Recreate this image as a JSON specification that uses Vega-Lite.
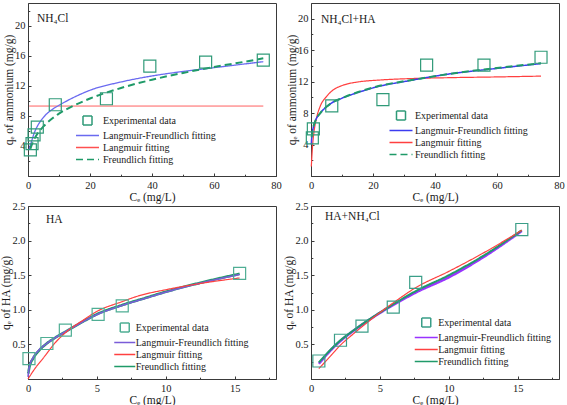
{
  "$schema": "https://vega.github.io/schema/vega-lite/v6.json",
  "padding": {"left": 0, "top": 2, "right": 0, "bottom": 0},
  "background": "white",
  "config": {
    "font": "Liberation Serif",
    "view": {"stroke": "#3a3a3a", "strokeWidth": 1},
    "axis": {"grid": false, "labelFont": "Liberation Serif", "titleFont": "Liberation Serif", "labelFontSize": 10.5, "titleFontSize": 11.5, "titleFontWeight": "normal", "labelColor": "#1a1a1a", "titleColor": "#1a1a1a", "domainColor": "#3a3a3a", "tickColor": "#3a3a3a", "tickSize": -3, "labelPadding": 7, "labelFlush": false, "labelOverlap": false},
    "axisX": {"titlePadding": 1},
    "axisY": {"titlePadding": 0, "labelPadding": 6},
    "legend": {"labelFont": "Liberation Serif", "labelFontSize": 10, "labelColor": "#1a1a1a", "symbolSize": 100, "symbolStrokeWidth": 1.5, "rowPadding": 1, "labelOffset": 9, "padding": 0, "orient": "none", "title": null},
    "title": {"font": "Liberation Serif", "fontSize": 11.5, "fontWeight": "normal", "anchor": "start", "orient": "top", "frame": "group", "baseline": "bottom", "color": "#1a1a1a"}
  },
  "datasets": {
    "p1": [
      {"series": "Experimental data", "Ce": 0.76, "qe": 3.47}, {"series": "Experimental data", "Ce": 1.3, "qe": 4.3}, {"series": "Experimental data", "Ce": 1.95, "qe": 5.47}, {"series": "Experimental data", "Ce": 3.0, "qe": 6.5}, {"series": "Experimental data", "Ce": 8.8, "qe": 9.47}, {"series": "Experimental data", "Ce": 25.3, "qe": 10.27}, {"series": "Experimental data", "Ce": 39.3, "qe": 14.6}, {"series": "Experimental data", "Ce": 57.3, "qe": 15.15}, {"series": "Experimental data", "Ce": 75.9, "qe": 15.4},
      {"series": "Langmuir-Freundlich fitting", "Ce": 0.35, "qe": 3.5}, {"series": "Langmuir-Freundlich fitting", "Ce": 1, "qe": 4.4}, {"series": "Langmuir-Freundlich fitting", "Ce": 2, "qe": 5.7}, {"series": "Langmuir-Freundlich fitting", "Ce": 3, "qe": 6.6}, {"series": "Langmuir-Freundlich fitting", "Ce": 5, "qe": 7.8}, {"series": "Langmuir-Freundlich fitting", "Ce": 8, "qe": 8.9}, {"series": "Langmuir-Freundlich fitting", "Ce": 10, "qe": 9.4}, {"series": "Langmuir-Freundlich fitting", "Ce": 15, "qe": 10.5}, {"series": "Langmuir-Freundlich fitting", "Ce": 20, "qe": 11.4}, {"series": "Langmuir-Freundlich fitting", "Ce": 30, "qe": 12.5}, {"series": "Langmuir-Freundlich fitting", "Ce": 40, "qe": 13.3}, {"series": "Langmuir-Freundlich fitting", "Ce": 50, "qe": 13.9}, {"series": "Langmuir-Freundlich fitting", "Ce": 60, "qe": 14.4}, {"series": "Langmuir-Freundlich fitting", "Ce": 70, "qe": 14.9}, {"series": "Langmuir-Freundlich fitting", "Ce": 75.9, "qe": 15.2},
      {"series": "Langmuir fitting", "Ce": 0.4, "qe": 9.3}, {"series": "Langmuir fitting", "Ce": 20, "qe": 9.3}, {"series": "Langmuir fitting", "Ce": 40, "qe": 9.3}, {"series": "Langmuir fitting", "Ce": 60, "qe": 9.3}, {"series": "Langmuir fitting", "Ce": 75.9, "qe": 9.3},
      {"series": "Freundlich fitting", "Ce": 0.76, "qe": 3.6}, {"series": "Freundlich fitting", "Ce": 1, "qe": 3.9}, {"series": "Freundlich fitting", "Ce": 2, "qe": 4.9}, {"series": "Freundlich fitting", "Ce": 3, "qe": 5.6}, {"series": "Freundlich fitting", "Ce": 5, "qe": 6.6}, {"series": "Freundlich fitting", "Ce": 8, "qe": 7.7}, {"series": "Freundlich fitting", "Ce": 10, "qe": 8.3}, {"series": "Freundlich fitting", "Ce": 15, "qe": 9.4}, {"series": "Freundlich fitting", "Ce": 20, "qe": 10.3}, {"series": "Freundlich fitting", "Ce": 30, "qe": 11.7}, {"series": "Freundlich fitting", "Ce": 40, "qe": 12.8}, {"series": "Freundlich fitting", "Ce": 50, "qe": 13.7}, {"series": "Freundlich fitting", "Ce": 60, "qe": 14.5}, {"series": "Freundlich fitting", "Ce": 70, "qe": 15.2}, {"series": "Freundlich fitting", "Ce": 75.9, "qe": 15.65}
    ],
    "p2": [
      {"series": "Experimental data", "Ce": 0.43, "qe": 4.84}, {"series": "Experimental data", "Ce": 0.76, "qe": 6.0}, {"series": "Experimental data", "Ce": 6.7, "qe": 8.92}, {"series": "Experimental data", "Ce": 23.2, "qe": 9.72}, {"series": "Experimental data", "Ce": 37.3, "qe": 14.1}, {"series": "Experimental data", "Ce": 55.8, "qe": 14.1}, {"series": "Experimental data", "Ce": 74.2, "qe": 15.1},
      {"series": "Langmuir fitting", "Ce": 0.1, "qe": 1.2}, {"series": "Langmuir fitting", "Ce": 0.3, "qe": 2.6}, {"series": "Langmuir fitting", "Ce": 0.6, "qe": 4.3}, {"series": "Langmuir fitting", "Ce": 1, "qe": 5.7}, {"series": "Langmuir fitting", "Ce": 1.8, "qe": 7.4}, {"series": "Langmuir fitting", "Ce": 3, "qe": 8.9}, {"series": "Langmuir fitting", "Ce": 5, "qe": 10.1}, {"series": "Langmuir fitting", "Ce": 7, "qe": 10.9}, {"series": "Langmuir fitting", "Ce": 10, "qe": 11.5}, {"series": "Langmuir fitting", "Ce": 15, "qe": 11.95}, {"series": "Langmuir fitting", "Ce": 22, "qe": 12.2}, {"series": "Langmuir fitting", "Ce": 33, "qe": 12.4}, {"series": "Langmuir fitting", "Ce": 44, "qe": 12.5}, {"series": "Langmuir fitting", "Ce": 60, "qe": 12.6}, {"series": "Langmuir fitting", "Ce": 74.2, "qe": 12.7},
      {"series": "Langmuir-Freundlich fitting", "Ce": 0.1, "qe": 4.0}, {"series": "Langmuir-Freundlich fitting", "Ce": 0.2, "qe": 4.7}, {"series": "Langmuir-Freundlich fitting", "Ce": 0.43, "qe": 5.5}, {"series": "Langmuir-Freundlich fitting", "Ce": 0.76, "qe": 6.2}, {"series": "Langmuir-Freundlich fitting", "Ce": 1.5, "qe": 7.1}, {"series": "Langmuir-Freundlich fitting", "Ce": 3, "qe": 8.0}, {"series": "Langmuir-Freundlich fitting", "Ce": 5, "qe": 8.8}, {"series": "Langmuir-Freundlich fitting", "Ce": 6.7, "qe": 9.3}, {"series": "Langmuir-Freundlich fitting", "Ce": 10, "qe": 9.9}, {"series": "Langmuir-Freundlich fitting", "Ce": 15, "qe": 10.6}, {"series": "Langmuir-Freundlich fitting", "Ce": 23, "qe": 11.5}, {"series": "Langmuir-Freundlich fitting", "Ce": 30, "qe": 12.0}, {"series": "Langmuir-Freundlich fitting", "Ce": 37, "qe": 12.5}, {"series": "Langmuir-Freundlich fitting", "Ce": 45, "qe": 13.0}, {"series": "Langmuir-Freundlich fitting", "Ce": 55.8, "qe": 13.5}, {"series": "Langmuir-Freundlich fitting", "Ce": 65, "qe": 13.9}, {"series": "Langmuir-Freundlich fitting", "Ce": 74.2, "qe": 14.3},
      {"series": "Freundlich fitting", "Ce": 0.2, "qe": 4.9}, {"series": "Freundlich fitting", "Ce": 0.43, "qe": 5.6}, {"series": "Freundlich fitting", "Ce": 0.76, "qe": 6.25}, {"series": "Freundlich fitting", "Ce": 1.5, "qe": 7.1}, {"series": "Freundlich fitting", "Ce": 3, "qe": 8.0}, {"series": "Freundlich fitting", "Ce": 5, "qe": 8.8}, {"series": "Freundlich fitting", "Ce": 6.7, "qe": 9.3}, {"series": "Freundlich fitting", "Ce": 10, "qe": 9.9}, {"series": "Freundlich fitting", "Ce": 15, "qe": 10.65}, {"series": "Freundlich fitting", "Ce": 23, "qe": 11.55}, {"series": "Freundlich fitting", "Ce": 30, "qe": 12.05}, {"series": "Freundlich fitting", "Ce": 37, "qe": 12.5}, {"series": "Freundlich fitting", "Ce": 45, "qe": 13.0}, {"series": "Freundlich fitting", "Ce": 55.8, "qe": 13.55}, {"series": "Freundlich fitting", "Ce": 65, "qe": 13.95}, {"series": "Freundlich fitting", "Ce": 74.2, "qe": 14.35}
    ],
    "p3": [
      {"series": "Experimental data", "Ce": 0.07, "qe": 0.295}, {"series": "Experimental data", "Ce": 1.37, "qe": 0.513}, {"series": "Experimental data", "Ce": 2.71, "qe": 0.707}, {"series": "Experimental data", "Ce": 5.09, "qe": 0.935}, {"series": "Experimental data", "Ce": 6.84, "qe": 1.056}, {"series": "Experimental data", "Ce": 15.36, "qe": 1.525},
      {"series": "Langmuir fitting", "Ce": 0, "qe": 0.0}, {"series": "Langmuir fitting", "Ce": 0.5, "qe": 0.15}, {"series": "Langmuir fitting", "Ce": 1.1, "qe": 0.3}, {"series": "Langmuir fitting", "Ce": 2, "qe": 0.53}, {"series": "Langmuir fitting", "Ce": 2.78, "qe": 0.68}, {"series": "Langmuir fitting", "Ce": 4, "qe": 0.85}, {"series": "Langmuir fitting", "Ce": 4.94, "qe": 0.97}, {"series": "Langmuir fitting", "Ce": 6.86, "qe": 1.12}, {"series": "Langmuir fitting", "Ce": 8, "qe": 1.2}, {"series": "Langmuir fitting", "Ce": 10, "qe": 1.29}, {"series": "Langmuir fitting", "Ce": 12.5, "qe": 1.38}, {"series": "Langmuir fitting", "Ce": 15.36, "qe": 1.46},
      {"series": "Freundlich fitting", "Ce": 0.02, "qe": 0.08}, {"series": "Freundlich fitting", "Ce": 0.1, "qe": 0.17}, {"series": "Freundlich fitting", "Ce": 0.38, "qe": 0.3}, {"series": "Freundlich fitting", "Ce": 0.8, "qe": 0.41}, {"series": "Freundlich fitting", "Ce": 1.34, "qe": 0.51}, {"series": "Freundlich fitting", "Ce": 2, "qe": 0.6}, {"series": "Freundlich fitting", "Ce": 2.78, "qe": 0.69}, {"series": "Freundlich fitting", "Ce": 4, "qe": 0.83}, {"series": "Freundlich fitting", "Ce": 4.94, "qe": 0.93}, {"series": "Freundlich fitting", "Ce": 6.86, "qe": 1.07}, {"series": "Freundlich fitting", "Ce": 8.5, "qe": 1.17}, {"series": "Freundlich fitting", "Ce": 10, "qe": 1.26}, {"series": "Freundlich fitting", "Ce": 12.5, "qe": 1.39}, {"series": "Freundlich fitting", "Ce": 15.36, "qe": 1.52},
      {"series": "Langmuir-Freundlich fitting", "Ce": 0, "qe": 0.03}, {"series": "Langmuir-Freundlich fitting", "Ce": 0.1, "qe": 0.18}, {"series": "Langmuir-Freundlich fitting", "Ce": 0.38, "qe": 0.31}, {"series": "Langmuir-Freundlich fitting", "Ce": 0.8, "qe": 0.42}, {"series": "Langmuir-Freundlich fitting", "Ce": 1.34, "qe": 0.51}, {"series": "Langmuir-Freundlich fitting", "Ce": 2, "qe": 0.6}, {"series": "Langmuir-Freundlich fitting", "Ce": 2.78, "qe": 0.69}, {"series": "Langmuir-Freundlich fitting", "Ce": 4, "qe": 0.83}, {"series": "Langmuir-Freundlich fitting", "Ce": 4.94, "qe": 0.925}, {"series": "Langmuir-Freundlich fitting", "Ce": 6.86, "qe": 1.065}, {"series": "Langmuir-Freundlich fitting", "Ce": 8.5, "qe": 1.165}, {"series": "Langmuir-Freundlich fitting", "Ce": 10, "qe": 1.255}, {"series": "Langmuir-Freundlich fitting", "Ce": 12.5, "qe": 1.385}, {"series": "Langmuir-Freundlich fitting", "Ce": 15.36, "qe": 1.51}
    ],
    "p4": [
      {"series": "Experimental data", "Ce": 0.57, "qe": 0.26}, {"series": "Experimental data", "Ce": 2.14, "qe": 0.56}, {"series": "Experimental data", "Ce": 3.7, "qe": 0.765}, {"series": "Experimental data", "Ce": 5.97, "qe": 1.04}, {"series": "Experimental data", "Ce": 7.6, "qe": 1.395}, {"series": "Experimental data", "Ce": 15.3, "qe": 2.16},
      {"series": "Langmuir-Freundlich fitting", "Ce": 0.57, "qe": 0.22}, {"series": "Langmuir-Freundlich fitting", "Ce": 1.5, "qe": 0.43}, {"series": "Langmuir-Freundlich fitting", "Ce": 2.14, "qe": 0.55}, {"series": "Langmuir-Freundlich fitting", "Ce": 3, "qe": 0.685}, {"series": "Langmuir-Freundlich fitting", "Ce": 3.7, "qe": 0.785}, {"series": "Langmuir-Freundlich fitting", "Ce": 5, "qe": 0.955}, {"series": "Langmuir-Freundlich fitting", "Ce": 5.97, "qe": 1.07}, {"series": "Langmuir-Freundlich fitting", "Ce": 7.6, "qe": 1.25}, {"series": "Langmuir-Freundlich fitting", "Ce": 10, "qe": 1.47}, {"series": "Langmuir-Freundlich fitting", "Ce": 12.5, "qe": 1.76}, {"series": "Langmuir-Freundlich fitting", "Ce": 15.3, "qe": 2.14},
      {"series": "Freundlich fitting", "Ce": 0.57, "qe": 0.24}, {"series": "Freundlich fitting", "Ce": 1.5, "qe": 0.44}, {"series": "Freundlich fitting", "Ce": 2.14, "qe": 0.56}, {"series": "Freundlich fitting", "Ce": 3, "qe": 0.69}, {"series": "Freundlich fitting", "Ce": 3.7, "qe": 0.79}, {"series": "Freundlich fitting", "Ce": 5, "qe": 0.96}, {"series": "Freundlich fitting", "Ce": 5.97, "qe": 1.08}, {"series": "Freundlich fitting", "Ce": 7.6, "qe": 1.27}, {"series": "Freundlich fitting", "Ce": 10, "qe": 1.5}, {"series": "Freundlich fitting", "Ce": 12.5, "qe": 1.78}, {"series": "Freundlich fitting", "Ce": 15.3, "qe": 2.15},
      {"series": "Langmuir fitting", "Ce": 0.57, "qe": 0.15}, {"series": "Langmuir fitting", "Ce": 1.5, "qe": 0.35}, {"series": "Langmuir fitting", "Ce": 2.14, "qe": 0.49}, {"series": "Langmuir fitting", "Ce": 3, "qe": 0.64}, {"series": "Langmuir fitting", "Ce": 3.7, "qe": 0.755}, {"series": "Langmuir fitting", "Ce": 5, "qe": 0.96}, {"series": "Langmuir fitting", "Ce": 5.97, "qe": 1.1}, {"series": "Langmuir fitting", "Ce": 7.6, "qe": 1.32}, {"series": "Langmuir fitting", "Ce": 10, "qe": 1.555}, {"series": "Langmuir fitting", "Ce": 12.5, "qe": 1.82}, {"series": "Langmuir fitting", "Ce": 15.3, "qe": 2.15}
    ]
  },
  "columns": 2,
  "spacing": {"row": 30, "column": 35},
  "bounds": "flush",
  "resolve": {
    "scale": {"x": "independent", "y": "independent", "color": "independent", "shape": "independent", "strokeDash": "independent"},
    "legend": {"color": "independent", "shape": "independent", "strokeDash": "independent"}
  },
  "concat": [
    {
      "width": 248, "height": 173,
      "title": {"text": "NH₄Cl", "dx": 9, "offset": -21},
      "data": {"name": "p1"},
      "resolve": {"axis": {"x": "independent", "y": "independent"}},
      "encoding": {
        "x": {"field": "Ce", "type": "quantitative", "axis": null, "scale": {"domain": [0, 80], "nice": false, "zero": false}},
        "y": {"field": "qe", "type": "quantitative", "axis": null, "scale": {"domain": [0, 23], "nice": false, "zero": false}},
        "color": {"field": "series", "type": "nominal", "scale": {"domain": ["Experimental data", "Langmuir-Freundlich fitting", "Langmuir fitting", "Freundlich fitting"], "range": ["#2f9a78", "#6a6af0", "#ff5050", "#1f9a68"]}, "legend": {"legendX": 53.5, "legendY": 111.5, "labelOffset": 9.5}},
        "strokeDash": {"field": "series", "type": "nominal", "scale": {"domain": ["Experimental data", "Langmuir-Freundlich fitting", "Langmuir fitting", "Freundlich fitting"], "range": [[1, 0], [1, 0], [1, 0], [7, 4]]}}
      },
      "layer": [
        {"transform": [{"filter": "datum.series === 'Langmuir fitting'"}], "mark": {"type": "line", "strokeWidth": 1},
         "encoding": {
           "x": {"field": "Ce", "type": "quantitative", "title": "Cₑ (mg/L)", "axis": {"orient": "bottom", "values": [0, 20, 40, 60, 80]}},
           "y": {"field": "qe", "type": "quantitative", "title": "qₑ of ammonium (mg/g)", "axis": {"orient": "left", "values": [4, 8, 12, 16, 20]}}}},
        {"transform": [{"filter": "datum.series === 'Langmuir-Freundlich fitting'"}], "mark": {"type": "line", "interpolate": "monotone", "strokeWidth": 1.3}},
        {"transform": [{"filter": "datum.series === 'Freundlich fitting'"}], "mark": {"type": "line", "interpolate": "monotone", "strokeWidth": 2}},
        {"transform": [{"filter": "datum.series === 'Experimental data'"}], "mark": {"type": "point", "filled": false, "opacity": 1, "size": 178, "strokeWidth": 1.2},
         "encoding": {
           "x": {"field": "Ce", "type": "quantitative", "axis": {"orient": "bottom", "values": [10, 30, 50, 70], "labels": false, "title": null, "domain": false, "tickSize": -1.8}},
           "y": {"field": "qe", "type": "quantitative", "axis": {"orient": "left", "values": [2, 6, 10, 14, 18, 22], "labels": false, "title": null, "domain": false, "tickSize": -1.8}},
           "shape": {"field": "series", "type": "nominal", "scale": {"domain": ["Experimental data", "Langmuir-Freundlich fitting", "Langmuir fitting", "Freundlich fitting"], "range": ["M-0.9,-0.9H0.9V0.9H-0.9Z", "M-2.3,0H2.3", "M-2.3,0H2.3", "M-2.3,0H2.3"]}}}}
      ]
    },
    {
      "width": 248, "height": 173,
      "title": {"text": "NH₄Cl+HA", "dx": 10, "offset": -22.5},
      "data": {"name": "p2"},
      "resolve": {"axis": {"x": "independent", "y": "independent"}},
      "encoding": {
        "x": {"field": "Ce", "type": "quantitative", "axis": null, "scale": {"domain": [0, 80], "nice": false, "zero": false}},
        "y": {"field": "qe", "type": "quantitative", "axis": null, "scale": {"domain": [0, 22], "nice": false, "zero": false}},
        "color": {"field": "series", "type": "nominal", "scale": {"domain": ["Experimental data", "Langmuir-Freundlich fitting", "Langmuir fitting", "Freundlich fitting"], "range": ["#2f9a78", "#3c3cf0", "#ff4040", "#1f9a68"]}, "legend": {"legendX": 84, "legendY": 106.5, "labelOffset": 8}},
        "strokeDash": {"field": "series", "type": "nominal", "scale": {"domain": ["Experimental data", "Langmuir-Freundlich fitting", "Langmuir fitting", "Freundlich fitting"], "range": [[1, 0], [1, 0], [1, 0], [7, 4]]}}
      },
      "layer": [
        {"transform": [{"filter": "datum.series === 'Langmuir fitting'"}], "mark": {"type": "line", "interpolate": "monotone", "strokeWidth": 1.2},
         "encoding": {
           "x": {"field": "Ce", "type": "quantitative", "title": "Cₑ (mg/L)", "axis": {"orient": "bottom", "values": [0, 20, 40, 60, 80]}},
           "y": {"field": "qe", "type": "quantitative", "title": "qₑ of ammonium (mg/g)", "axis": {"orient": "left", "values": [4, 8, 12, 16, 20]}}}},
        {"transform": [{"filter": "datum.series === 'Langmuir-Freundlich fitting'"}], "mark": {"type": "line", "interpolate": "monotone", "strokeWidth": 1.5}},
        {"transform": [{"filter": "datum.series === 'Freundlich fitting'"}], "mark": {"type": "line", "interpolate": "monotone", "strokeWidth": 2}},
        {"transform": [{"filter": "datum.series === 'Experimental data'"}], "mark": {"type": "point", "filled": false, "opacity": 1, "size": 178, "strokeWidth": 1.2},
         "encoding": {
           "x": {"field": "Ce", "type": "quantitative", "axis": {"orient": "bottom", "values": [10, 30, 50, 70], "labels": false, "title": null, "domain": false, "tickSize": -1.8}},
           "y": {"field": "qe", "type": "quantitative", "axis": {"orient": "left", "values": [2, 6, 10, 14, 18], "labels": false, "title": null, "domain": false, "tickSize": -1.8}},
           "shape": {"field": "series", "type": "nominal", "scale": {"domain": ["Experimental data", "Langmuir-Freundlich fitting", "Langmuir fitting", "Freundlich fitting"], "range": ["M-0.9,-0.9H0.9V0.9H-0.9Z", "M-2.3,0H2.3", "M-2.3,0H2.3", "M-2.3,0H2.3"]}}}}
      ]
    },
    {
      "width": 248, "height": 173,
      "title": {"text": "HA", "dx": 18, "offset": -24.5},
      "data": {"name": "p3"},
      "resolve": {"axis": {"x": "independent", "y": "independent"}},
      "encoding": {
        "x": {"field": "Ce", "type": "quantitative", "axis": null, "scale": {"domain": [0, 18], "nice": false, "zero": false}},
        "y": {"field": "qe", "type": "quantitative", "axis": null, "scale": {"domain": [0, 2.5], "nice": false, "zero": false}},
        "color": {"field": "series", "type": "nominal", "scale": {"domain": ["Experimental data", "Langmuir-Freundlich fitting", "Langmuir fitting", "Freundlich fitting"], "range": ["#4fae94", "#7a5cd8", "#ff4040", "#1f9a68"]}, "legend": {"legendX": 90.75, "legendY": 115.5, "labelOffset": 5}},
        "strokeDash": {"field": "series", "type": "nominal", "scale": {"domain": ["Experimental data", "Langmuir-Freundlich fitting", "Langmuir fitting", "Freundlich fitting"], "range": [[1, 0], [1, 0], [1, 0], [1, 0]]}}
      },
      "layer": [
        {"transform": [{"filter": "datum.series === 'Freundlich fitting'"}], "mark": {"type": "line", "interpolate": "monotone", "strokeWidth": 2.6},
         "encoding": {
           "x": {"field": "Ce", "type": "quantitative", "title": "Cₑ (mg/L)", "axis": {"orient": "bottom", "values": [0, 5, 10, 15]}},
           "y": {"field": "qe", "type": "quantitative", "title": "qₑ of HA (mg/g)", "axis": {"orient": "left", "values": [0.5, 1.0, 1.5, 2.0, 2.5], "format": ".1f"}}}},
        {"transform": [{"filter": "datum.series === 'Langmuir-Freundlich fitting'"}], "mark": {"type": "line", "interpolate": "monotone", "strokeWidth": 1.6}},
        {"transform": [{"filter": "datum.series === 'Langmuir fitting'"}], "mark": {"type": "line", "interpolate": "monotone", "strokeWidth": 1.2}},
        {"transform": [{"filter": "datum.series === 'Experimental data'"}], "mark": {"type": "point", "filled": false, "opacity": 1, "size": 178, "strokeWidth": 1.2},
         "encoding": {
           "x": {"field": "Ce", "type": "quantitative", "axis": {"orient": "bottom", "values": [2.5, 7.5, 12.5, 17.5], "labels": false, "title": null, "domain": false, "tickSize": -1.8}},
           "y": {"field": "qe", "type": "quantitative", "axis": {"orient": "left", "values": [0.25, 0.75, 1.25, 1.75, 2.25], "labels": false, "title": null, "domain": false, "tickSize": -1.8}},
           "shape": {"field": "series", "type": "nominal", "scale": {"domain": ["Experimental data", "Langmuir-Freundlich fitting", "Langmuir fitting", "Freundlich fitting"], "range": ["M-0.9,-0.9H0.9V0.9H-0.9Z", "M-2.1,0H2.1", "M-2.1,0H2.1", "M-2.1,0H2.1"]}}}}
      ]
    },
    {
      "width": 248, "height": 173,
      "title": {"text": "HA+NH₄Cl", "dx": 14, "offset": -21.5},
      "data": {"name": "p4"},
      "resolve": {"axis": {"x": "independent", "y": "independent"}},
      "encoding": {
        "x": {"field": "Ce", "type": "quantitative", "axis": null, "scale": {"domain": [0, 18], "nice": false, "zero": false}},
        "y": {"field": "qe", "type": "quantitative", "axis": null, "scale": {"domain": [0, 2.5], "nice": false, "zero": false}},
        "color": {"field": "series", "type": "nominal", "scale": {"domain": ["Experimental data", "Langmuir-Freundlich fitting", "Langmuir fitting", "Freundlich fitting"], "range": ["#3a9e88", "#9933ff", "#ff4040", "#209a6a"]}, "legend": {"legendX": 109.25, "legendY": 110.5, "labelOffset": 6}},
        "strokeDash": {"field": "series", "type": "nominal", "scale": {"domain": ["Experimental data", "Langmuir-Freundlich fitting", "Langmuir fitting", "Freundlich fitting"], "range": [[1, 0], [1, 0], [1, 0], [1, 0]]}}
      },
      "layer": [
        {"transform": [{"filter": "datum.series === 'Langmuir-Freundlich fitting'"}], "mark": {"type": "line", "interpolate": "monotone", "strokeWidth": 2.6},
         "encoding": {
           "x": {"field": "Ce", "type": "quantitative", "title": "Cₑ (mg/L)", "axis": {"orient": "bottom", "values": [0, 5, 10, 15]}},
           "y": {"field": "qe", "type": "quantitative", "title": "qₑ of HA (mg/g)", "axis": {"orient": "left", "values": [0.5, 1.0, 1.5, 2.0, 2.5], "format": ".1f"}}}},
        {"transform": [{"filter": "datum.series === 'Freundlich fitting'"}], "mark": {"type": "line", "interpolate": "monotone", "strokeWidth": 2}},
        {"transform": [{"filter": "datum.series === 'Langmuir fitting'"}], "mark": {"type": "line", "interpolate": "monotone", "strokeWidth": 1.2}},
        {"transform": [{"filter": "datum.series === 'Experimental data'"}], "mark": {"type": "point", "filled": false, "opacity": 1, "size": 178, "strokeWidth": 1.2},
         "encoding": {
           "x": {"field": "Ce", "type": "quantitative", "axis": {"orient": "bottom", "values": [2.5, 7.5, 12.5, 17.5], "labels": false, "title": null, "domain": false, "tickSize": -1.8}},
           "y": {"field": "qe", "type": "quantitative", "axis": {"orient": "left", "values": [0.25, 0.75, 1.25, 1.75, 2.25], "labels": false, "title": null, "domain": false, "tickSize": -1.8}},
           "shape": {"field": "series", "type": "nominal", "scale": {"domain": ["Experimental data", "Langmuir-Freundlich fitting", "Langmuir fitting", "Freundlich fitting"], "range": ["M-0.9,-0.9H0.9V0.9H-0.9Z", "M-2.3,0H2.3", "M-2.3,0H2.3", "M-2.3,0H2.3"]}}}}
      ]
    }
  ]
}
